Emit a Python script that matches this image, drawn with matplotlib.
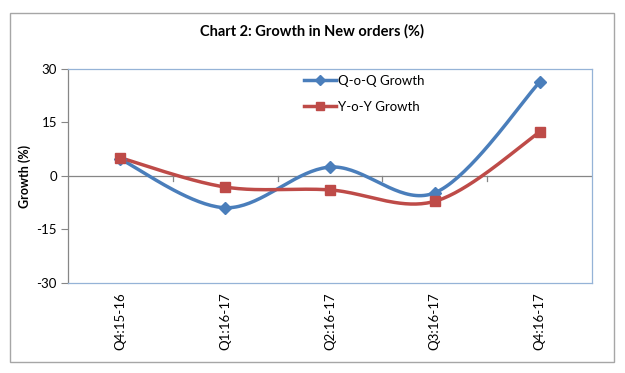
import numpy as np
import matplotlib.pyplot as plt
from matplotlib.patches import Rectangle

plt.rcParams['font.family'] = ['Lato', 'DejaVu Sans']

# data
quarters = ["Q4:15-16", "Q1:16-17", "Q2:16-17", "Q3:16-17", "Q4:16-17"]
qoq = [4.7, -8.9, 2.5, -4.7, 26.3]
yoy = [5.1, -3.1, -3.9, -7.1, 12.3]

blue = "#4A7EBB"
red = "#BE4B48"


def smooth(xs, ys, n=40):
    # excel style smoothed line: bezier segments with catmull-rom control points
    p = np.column_stack([xs, ys]).astype(float)
    p = np.vstack([p[0], p, p[-1]])
    out = []
    for i in range(1, len(p) - 2):
        p0, p1, p2, p3 = p[i - 1], p[i], p[i + 1], p[i + 2]
        c1 = p1 + (p2 - p0) / 6
        c2 = p2 - (p3 - p1) / 6
        t = np.linspace(0, 1, n)[:, None]
        seg = (1 - t) ** 3 * p1 + 3 * (1 - t) ** 2 * t * c1 + 3 * (1 - t) * t ** 2 * c2 + t ** 3 * p2
        out.append(seg)
    out = np.vstack(out)
    return out[:, 0], out[:, 1]


fig = plt.figure(figsize=(6.25, 3.73), dpi=100)
fig.patches.append(Rectangle((10 / 625, 1 - 362 / 373), 604 / 625, 349 / 373,
                             transform=fig.transFigure, fill=False,
                             edgecolor="#A6A6A6", linewidth=1.0))

ax = fig.add_axes([68 / 625, 1 - 283 / 373, 524 / 625, 214 / 373])
x = np.arange(len(quarters))

sx, sy = smooth(x, qoq)
ax.plot(sx, sy, color=blue, lw=2.5, zorder=3)
ax.plot(x, qoq, ls="none", marker="D", ms=6.5, color=blue, zorder=4)
sx, sy = smooth(x, yoy)
ax.plot(sx, sy, color=red, lw=2.5, zorder=3)
ax.plot(x, yoy, ls="none", marker="s", ms=6.5, color=red, zorder=4)

# legend proxies
ax.plot([], [], color=blue, lw=2.5, marker="D", ms=5.5, label="Q-o-Q Growth")
ax.plot([], [], color=red, lw=2.5, marker="s", ms=5.5, label="Y-o-Y Growth")
ax.legend(loc="upper left", bbox_to_anchor=(304 / 625, 1 - 75 / 373),
          bbox_transform=fig.transFigure, frameon=False, fontsize=9.5,
          handlelength=2.4, handletextpad=0.2, labelspacing=1.05,
          borderaxespad=0, borderpad=0)

ax.set_xlim(-0.5, len(quarters) - 0.5)
ax.set_ylim(-30, 30)
ax.set_yticks([-30, -15, 0, 15, 30])
ax.set_yticklabels(["-30", "-15", "0", "15", "30"])
ax.set_xticks(x)
ax.set_xticklabels(quarters, rotation=90, fontsize=9.5)
ax.tick_params(axis="x", length=0, pad=7)
ax.tick_params(axis="y", length=5, color="#868686", labelsize=9.5, pad=3)

# horizontal axis at zero with tick marks between categories
ax.axhline(0, color="#868686", lw=0.9, zorder=2)
for b in np.arange(0.5, len(quarters) - 0.5):
    ax.plot([b, b], [0, -1.4], color="#868686", lw=0.9, zorder=2)

for s in ["top", "right", "bottom"]:
    ax.spines[s].set_color("#95B3D7")
    ax.spines[s].set_linewidth(0.9)
ax.spines["left"].set_color("#868686")
ax.spines["left"].set_linewidth(0.9)

ax.set_ylabel("Growth (%)", fontsize=9, fontweight="bold", labelpad=4)
fig.text(0.5, 1 - 31 / 373, "Chart 2: Growth in New orders (%)", ha="center",
         va="center", fontsize=10.5, fontweight="bold")

fig.savefig("out.png", dpi=100)
